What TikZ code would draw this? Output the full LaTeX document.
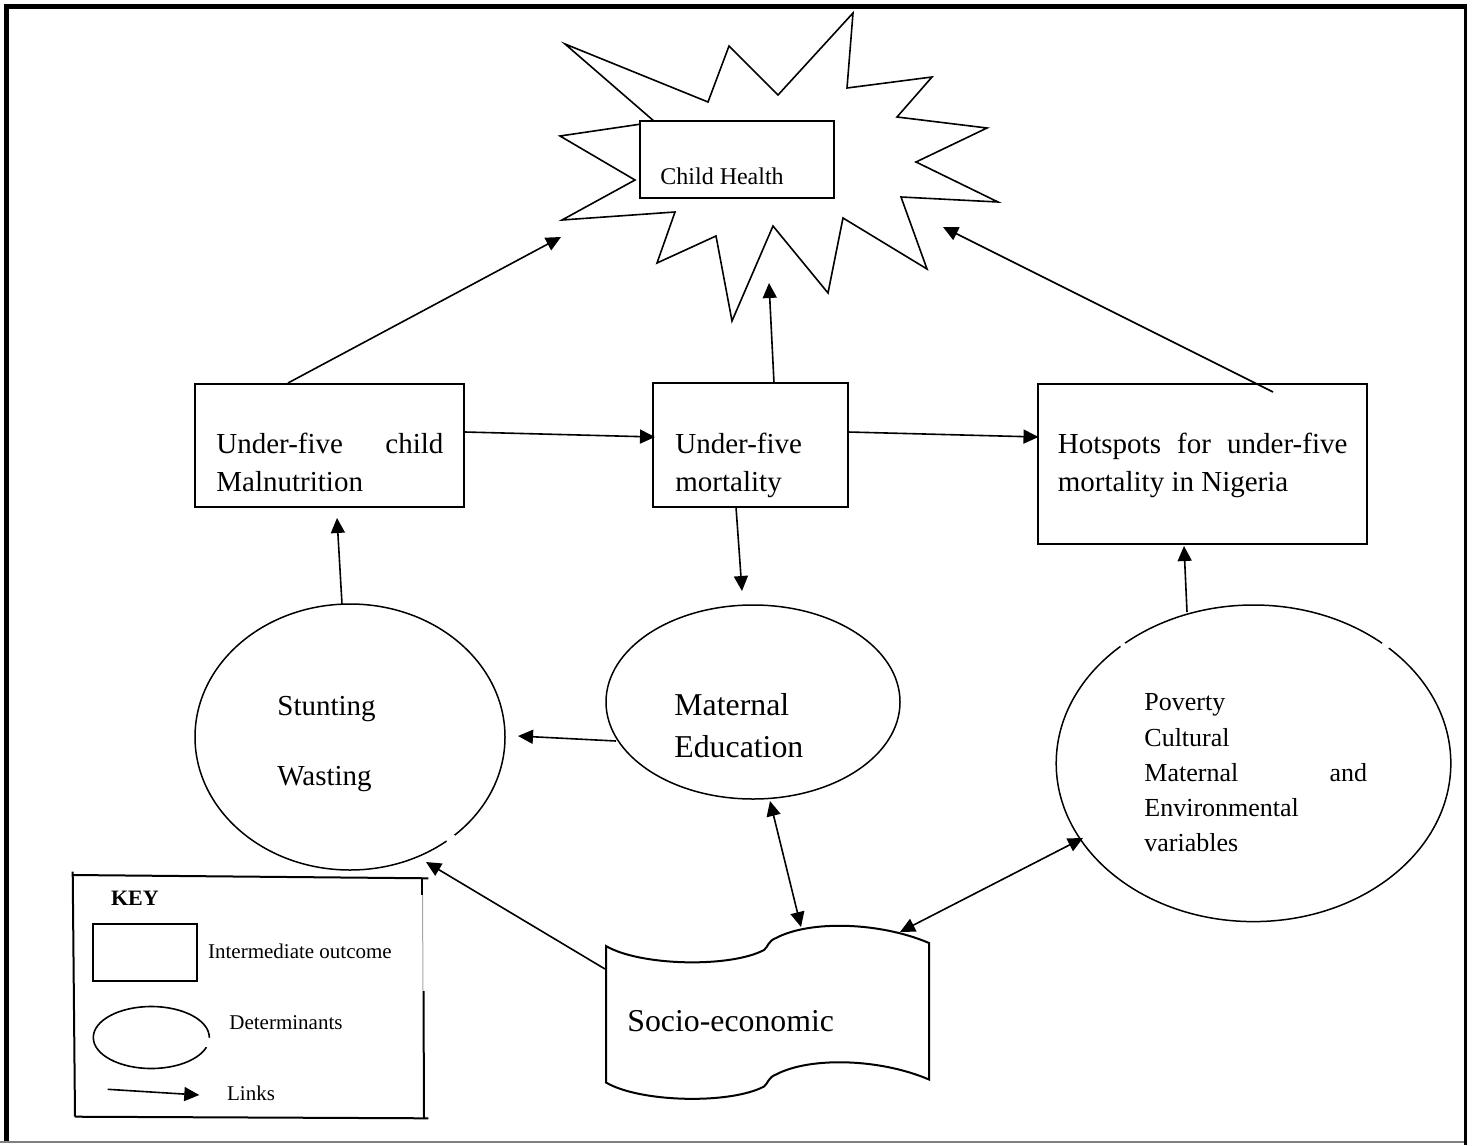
\documentclass[tikz,border=0pt]{standalone}
\usepackage{fontspec}
\setmainfont{Liberation Serif}
\usetikzlibrary{arrows.meta,shapes.geometric}
\newcommand\fsA{\fontsize{14.5}{17}\selectfont}
\newcommand\fsB{\fontsize{15.9}{19}\selectfont}
\newcommand\fsC{\fontsize{13}{15.5}\selectfont}
\newcommand\fsD{\fontsize{12}{14}\selectfont}
\newcommand\fsE{\fontsize{10.5}{12.5}\selectfont}
\begin{document}
\begin{tikzpicture}[x=0.5pt,y=-0.5pt,line join=miter,
  box/.style={draw,line width=1pt,rectangle,inner sep=0pt,fill=white},
  ell/.style={draw,ellipse,line width=0.75pt,inner sep=0pt},
  txt/.style={anchor=base west,inner sep=0pt},
  link/.style={line width=0.8pt,-{Triangle[length=7.5pt,width=7pt]}},
  dlink/.style={line width=0.8pt,{Triangle[length=7.5pt,width=7pt]}-{Triangle[length=7.5pt,width=7pt]}}]
\useasboundingbox (0,0) rectangle (1476,1145);
% outer frame
\draw[line width=2.5pt] (4,6.5) -- (1467,6.5);
\draw[line width=2.5pt] (6.5,4) -- (6.5,1141);
\draw[line width=1.8pt] (1465.5,4) -- (1465.5,1145);
\draw[gray,line width=0.6pt] (0,1142) -- (1464,1142);
% star
\draw[line width=0.8pt] (565,44) -- (708,102) -- (729,46) -- (778,95) -- (853,13) -- (847,88)
  -- (932,77) -- (897,117) -- (987,128) -- (916,162) -- (998,202) -- (901,197) -- (927,269)
  -- (843,218) -- (828,293) -- (773,226) -- (732,321) -- (716,236) -- (657,263) -- (675,212)
  -- (562,220) -- (635,180) -- (560,136) -- (655,122) -- cycle;
% boxes
\node[box,line width=0.85pt,minimum width=97pt,minimum height=38.5pt] (ch) at (737,159.5) {};
\node[txt] (cht) at (660,184) {\fsD Child Health};
\node[box,minimum width=134.5pt,minimum height=61.5pt] (mal) at (329.5,445.5) {};
\node[txt] (malt1) at (216,453) {\fsA\hbox to 113.5pt{Under-five\hfill child}};
\node[txt] (malt2) at (216,491) {\fsA Malnutrition};
\node[box,minimum width=97.5pt,minimum height=62pt] (mort) at (750.5,445) {};
\node[txt] (mortt1) at (675,453) {\fsA Under-five};
\node[txt] (mortt2) at (675,491) {\fsA mortality};
\node[box,minimum width=164.5pt,minimum height=80pt] (hot) at (1202.5,464) {};
\node[txt] (hott1) at (1057.5,453) {\fsA\hbox to 144.75pt{Hotspots\hfill for\hfill under-five}};
\node[txt] (hott2) at (1057.5,491) {\fsA mortality in Nigeria};
% ellipses
\node[ell,minimum width=155pt,minimum height=133pt] (stunt) at (350,737) {};
\fill[white] (451,839) circle[radius=2.6pt];
\node[txt] (stt1) at (277,715) {\fsA Stunting};
\node[txt] (stt2) at (277,785) {\fsA Wasting};
\node[ell,minimum width=147pt,minimum height=97pt] (matedu) at (753,702) {};
\node[txt] (met1) at (674,715) {\fsB Maternal};
\node[txt] (met2) at (674,757) {\fsB Education};
\node[ell,minimum width=197.3pt,minimum height=158.3pt] (pov) at (1253.5,763.3) {};
\fill[white] (1123,645) circle[radius=1.5pt];
\fill[white] (1386,645) circle[radius=2.2pt];
\node[txt] (pt1) at (1144,710) {\fsC Poverty};
\node[txt] (pt2) at (1144,746.7) {\fsC Cultural};
\node[txt] (pt3) at (1144,781.7) {\fsC\hbox to 111.35pt{Maternal\hfill and}};
\node[txt] (pt4) at (1144,816.7) {\fsC Environmental};
\node[txt] (pt5) at (1144,851.7) {\fsC variables};
% socio-economic wave
\draw[line width=1pt] (606,946) .. controls (640,966) and (730,968) .. (764,950)
  .. controls (768,947) and (768,941) .. (776,938)
  .. controls (810,920) and (880,922) .. (929,943) -- (929,1079.5)
  .. controls (880,1058.5) and (810,1056.5) .. (776,1074.5)
  .. controls (768,1077.5) and (768,1083.5) .. (764,1086.5)
  .. controls (730,1104.5) and (640,1102.5) .. (606,1082.5) -- cycle;
\node[txt] (socio) at (627,1031.7) {\fsB Socio-economic};
% key
\draw[line width=1pt] (72.7,875) -- (428.3,878.3);
\draw[line width=1pt] (72.7,871.7) -- (75,1116.7);
\draw[line width=1pt] (75,1116.7) -- (428.3,1118.3);
\draw[line width=1pt] (421.7,878) -- (421.7,895);
\draw[gray!70,line width=0.5pt] (422.5,895) -- (423,991);
\draw[line width=1pt] (423.5,991) -- (424,1118);
\node[txt] (keyt) at (110.7,905.7) {\fsE\fontsize{11}{13}\selectfont\bfseries KEY};
\node[box,minimum width=51.7pt,minimum height=28.3pt] (keybox) at (145,952.3) {};
\node[txt] (keyboxt) at (207.7,958.3) {\fsE Intermediate outcome};
\node[ell,line width=0.8pt,minimum width=58pt,minimum height=31pt] (keyell) at (151.3,1037.5) {};
\fill[white] (208,1042.5) circle[radius=2.6pt];
\node[txt] (keyellt) at (229,1029.3) {\fsE Determinants};
\coordinate (kls) at (107.7,1089.3);
\coordinate (kle) at (199.3,1095);
\draw[link] (kls) -- (kle);
\node[txt] (keylinkt) at (226.7,1100.7) {\fsE Links};
% connector end points
\coordinate (a1s) at (465,432);   \coordinate (a1e) at (655,437);
\coordinate (a2s) at (848,432);   \coordinate (a2e) at (1038.5,437);
\coordinate (a3s) at (288,383);   \coordinate (a3e) at (561,237);
\coordinate (a4s) at (774,383);   \coordinate (a4e) at (769,283);
\coordinate (a5s) at (1273,392);  \coordinate (a5e) at (943,227);
\coordinate (a6s) at (342,604);   \coordinate (a6e) at (337,518);
\coordinate (a7s) at (736,507);   \coordinate (a7e) at (742,591);
\coordinate (a8s) at (616,741);   \coordinate (a8e) at (518,736);
\coordinate (a9s) at (770,801);   \coordinate (a9e) at (801,927);
\coordinate (a10s) at (1187,612); \coordinate (a10e) at (1184,546);
\coordinate (a11s) at (900,932);  \coordinate (a11e) at (1083,838);
\coordinate (a12s) at (605,969);  \coordinate (a12e) at (426,862);
% connectors
\draw[link] (a1s) -- (a1e);
\draw[link] (a2s) -- (a2e);
\draw[link] (a3s) -- (a3e);
\draw[link] (a4s) -- (a4e);
\draw[link] (a5s) -- (a5e);
\draw[link] (a6s) -- (a6e);
\draw[link] (a7s) -- (a7e);
\draw[link] (a8s) -- (a8e);
\draw[dlink] (a9s) -- (a9e);
\draw[link] (a10s) -- (a10e);
\draw[dlink] (a11s) -- (a11e);
\draw[link] (a12s) -- (a12e);
\end{tikzpicture}
\end{document}
